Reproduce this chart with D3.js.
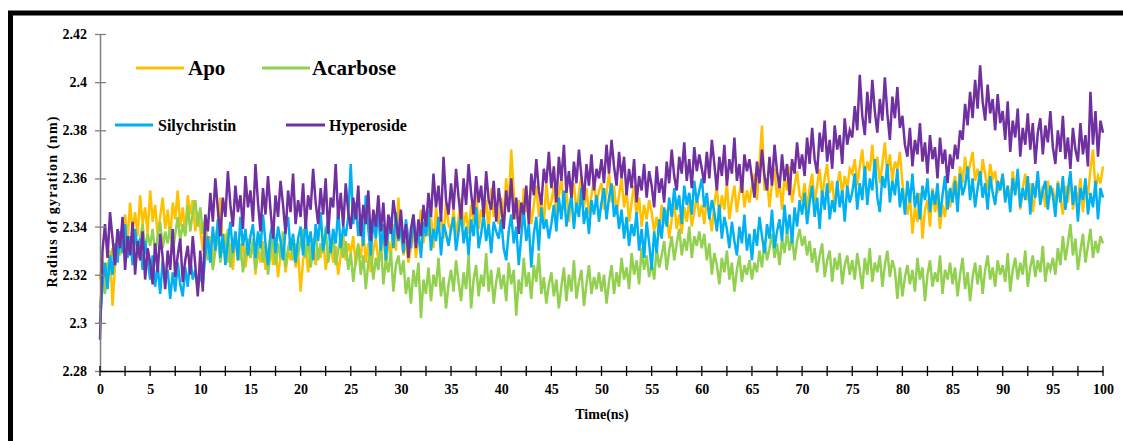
<!DOCTYPE html>
<html>
<head>
<meta charset="utf-8">
<script src="https://cdn.jsdelivr.net/npm/d3@7"></script>
<style>
  body { margin: 0; background: #fff; }
  svg { display: block; }
  text { font-family: "Liberation Serif", "Times New Roman", serif; font-weight: bold; }
</style>
</head>
<body>
<div id="chart"></div>
<script>
// time axis: 0..100 ns sampled every 0.25 ns (one row below = 5 ns)
const STEP = 0.25;
const xTicks = d3.range(0, 100.01, 2.5);
const xLabels = d3.range(0, 100.01, 5);
const yTicks = [2.28, 2.3, 2.32, 2.34, 2.36, 2.38, 2.4, 2.42];

const seriesNames = ["Apo", "Acarbose", "Silychristin", "Hyperoside"];
const seriesColors = ["#FFC000", "#92D050", "#00B0F0", "#7030A0"];

const apo = [
  2.318, 2.326, 2.315, 2.322, 2.330, 2.307, 2.324, 2.333, 2.328, 2.339, 2.345, 2.334, 2.350, 2.338, 2.346, 2.336, 2.353, 2.341, 2.348, 2.337,
  2.355, 2.342, 2.349, 2.336, 2.344, 2.352, 2.339, 2.347, 2.335, 2.350, 2.343, 2.355, 2.340, 2.348, 2.337, 2.353, 2.345, 2.351, 2.338, 2.346,
  2.339, 2.330, 2.343, 2.327, 2.336, 2.324, 2.334, 2.341, 2.352, 2.329, 2.337, 2.325, 2.333, 2.322, 2.338, 2.330, 2.326, 2.335, 2.323, 2.331,
  2.327, 2.335, 2.320, 2.331, 2.325, 2.334, 2.322, 2.329, 2.336, 2.324, 2.332, 2.319, 2.328, 2.333, 2.321, 2.330, 2.326, 2.334, 2.323, 2.329,
  2.313, 2.326, 2.332, 2.321, 2.330, 2.335, 2.324, 2.331, 2.327, 2.336, 2.322, 2.329, 2.334, 2.325, 2.332, 2.320, 2.328, 2.337, 2.326, 2.333,
  2.329, 2.336, 2.324, 2.332, 2.327, 2.339, 2.325, 2.333, 2.321, 2.330, 2.335, 2.326, 2.331, 2.338, 2.323, 2.334, 2.328, 2.341, 2.330, 2.352,
  2.337, 2.328, 2.334, 2.325, 2.331, 2.339, 2.327, 2.336, 2.347, 2.333, 2.341, 2.336, 2.345, 2.331, 2.348, 2.339, 2.344, 2.335, 2.350, 2.341,
  2.338, 2.347, 2.336, 2.344, 2.352, 2.340, 2.346, 2.337, 2.349, 2.342, 2.355, 2.339, 2.347, 2.343, 2.351, 2.338, 2.356, 2.344, 2.349, 2.341,
  2.352, 2.345, 2.360, 2.348, 2.372, 2.354, 2.343, 2.351, 2.339, 2.356, 2.346, 2.353, 2.341, 2.349, 2.357, 2.344, 2.352, 2.340, 2.358, 2.347,
  2.350, 2.357, 2.344, 2.353, 2.360, 2.347, 2.355, 2.342, 2.351, 2.358, 2.346, 2.354, 2.361, 2.348, 2.356, 2.345, 2.353, 2.359, 2.349, 2.355,
  2.358, 2.347, 2.354, 2.362, 2.350, 2.357, 2.345, 2.353, 2.360, 2.348, 2.355, 2.342, 2.350, 2.357, 2.344, 2.352, 2.340, 2.349, 2.343, 2.351,
  2.346, 2.338, 2.344, 2.336, 2.349, 2.341, 2.347, 2.335, 2.343, 2.350, 2.339, 2.345, 2.337, 2.348, 2.342, 2.351, 2.340, 2.346, 2.353, 2.344,
  2.349, 2.341, 2.352, 2.345, 2.338, 2.350, 2.356, 2.344, 2.353, 2.347, 2.358, 2.343, 2.351, 2.357, 2.346, 2.354, 2.360, 2.348, 2.355, 2.350,
  2.357, 2.362, 2.351, 2.366, 2.382, 2.355, 2.360, 2.348, 2.358, 2.364, 2.352, 2.359, 2.347, 2.361, 2.355, 2.365, 2.350, 2.357, 2.363, 2.353,
  2.351, 2.358, 2.347, 2.356, 2.362, 2.350, 2.357, 2.364, 2.352, 2.360, 2.366, 2.354, 2.359, 2.348, 2.357, 2.363, 2.353, 2.361, 2.356, 2.364,
  2.362, 2.368, 2.357, 2.365, 2.372, 2.360, 2.367, 2.363, 2.374, 2.361, 2.369, 2.358, 2.366, 2.375, 2.362, 2.370, 2.359, 2.367, 2.364, 2.371,
  2.358, 2.350, 2.345, 2.353, 2.337, 2.348, 2.342, 2.354, 2.335, 2.347, 2.351, 2.340, 2.356, 2.346, 2.352, 2.339, 2.349, 2.344, 2.355, 2.348,
  2.356, 2.361, 2.352, 2.365, 2.358, 2.369, 2.360, 2.366, 2.371, 2.359, 2.364, 2.357, 2.368, 2.362, 2.355, 2.366, 2.360, 2.363, 2.354, 2.358,
  2.361, 2.352, 2.357, 2.349, 2.363, 2.355, 2.360, 2.347, 2.356, 2.362, 2.351, 2.358, 2.346, 2.354, 2.361, 2.350, 2.357, 2.348, 2.359, 2.353,
  2.356, 2.348, 2.359, 2.352, 2.345, 2.357, 2.350, 2.362, 2.347, 2.355, 2.351, 2.360, 2.346, 2.358, 2.353, 2.364, 2.372, 2.355, 2.361, 2.358,
  2.365
];

const acarbose = [
  2.306, 2.318, 2.312, 2.325, 2.320, 2.331, 2.326, 2.337, 2.329, 2.334, 2.340, 2.328, 2.336, 2.331, 2.338, 2.327, 2.335, 2.341, 2.330, 2.337,
  2.332, 2.339, 2.328, 2.336, 2.342, 2.331, 2.338, 2.333, 2.340, 2.329, 2.337, 2.344, 2.334, 2.341, 2.336, 2.349, 2.338, 2.346, 2.351, 2.340,
  2.348, 2.337, 2.344, 2.326, 2.333, 2.322, 2.330, 2.337, 2.325, 2.334, 2.328, 2.339, 2.323, 2.331, 2.336, 2.326, 2.333, 2.321, 2.329, 2.335,
  2.327, 2.334, 2.322, 2.330, 2.337, 2.325, 2.332, 2.320, 2.329, 2.336, 2.324, 2.333, 2.327, 2.338, 2.323, 2.331, 2.335, 2.326, 2.333, 2.328,
  2.334, 2.339, 2.327, 2.335, 2.323, 2.331, 2.338, 2.326, 2.333, 2.329, 2.340, 2.325, 2.332, 2.337, 2.324, 2.330, 2.336, 2.327, 2.334, 2.322,
  2.329, 2.317, 2.326, 2.333, 2.320, 2.328, 2.314, 2.325, 2.331, 2.318, 2.327, 2.322, 2.334, 2.316, 2.326, 2.321, 2.330, 2.313, 2.324, 2.328,
  2.320, 2.326, 2.312, 2.319, 2.308, 2.322, 2.315, 2.325, 2.302, 2.318, 2.312, 2.323, 2.309, 2.320, 2.315, 2.327, 2.311, 2.319, 2.306, 2.316,
  2.322, 2.313, 2.326, 2.317, 2.309, 2.321, 2.314, 2.328, 2.306, 2.318, 2.324, 2.311, 2.320, 2.315, 2.329, 2.313, 2.322, 2.308, 2.317, 2.323,
  2.314, 2.320, 2.309, 2.325, 2.316, 2.322, 2.303, 2.318, 2.312, 2.327, 2.315, 2.321, 2.310, 2.324, 2.317, 2.329, 2.312, 2.319, 2.308, 2.316,
  2.321, 2.311, 2.318, 2.306, 2.315, 2.323, 2.309, 2.320, 2.313, 2.326, 2.310, 2.317, 2.322, 2.307, 2.316, 2.324, 2.312, 2.319, 2.314, 2.321,
  2.313, 2.320, 2.308, 2.317, 2.324, 2.312, 2.321, 2.315, 2.327, 2.318, 2.323, 2.314, 2.329, 2.320, 2.326, 2.316, 2.331, 2.322, 2.328, 2.319,
  2.325, 2.318, 2.331, 2.323, 2.328, 2.334, 2.322, 2.330, 2.336, 2.326, 2.333, 2.339, 2.328, 2.335, 2.330, 2.340, 2.327, 2.336, 2.332, 2.338,
  2.331, 2.337, 2.326, 2.333, 2.320, 2.329, 2.324, 2.316, 2.327, 2.321, 2.330, 2.318, 2.325, 2.313, 2.322, 2.328, 2.317, 2.324, 2.320, 2.326,
  2.318, 2.325, 2.321, 2.330, 2.323, 2.334, 2.326, 2.331, 2.337, 2.327, 2.333, 2.324, 2.335, 2.329, 2.338, 2.330, 2.336, 2.326, 2.334, 2.339,
  2.332, 2.336, 2.328, 2.334, 2.325, 2.331, 2.321, 2.328, 2.333, 2.319, 2.326, 2.330, 2.317, 2.327, 2.322, 2.329, 2.316, 2.324, 2.328, 2.320,
  2.326, 2.318, 2.329, 2.322, 2.314, 2.327, 2.320, 2.331, 2.317, 2.325, 2.321, 2.328, 2.315, 2.324, 2.330, 2.319, 2.326, 2.322, 2.310, 2.323,
  2.311, 2.319, 2.324, 2.316, 2.322, 2.313, 2.327, 2.318, 2.323, 2.309, 2.320, 2.326, 2.315, 2.321, 2.317, 2.328, 2.312, 2.322, 2.318, 2.325,
  2.316, 2.323, 2.311, 2.320, 2.327, 2.314, 2.321, 2.309, 2.319, 2.325, 2.316, 2.324, 2.312, 2.322, 2.328, 2.318, 2.323, 2.315, 2.326, 2.320,
  2.324, 2.317, 2.329, 2.313, 2.322, 2.327, 2.318, 2.325, 2.320, 2.330, 2.315, 2.323, 2.328, 2.319, 2.326, 2.321, 2.332, 2.317, 2.325, 2.322,
  2.327, 2.320, 2.331, 2.324, 2.336, 2.326, 2.333, 2.341, 2.328, 2.335, 2.322, 2.330, 2.337, 2.325, 2.332, 2.339, 2.327, 2.334, 2.329, 2.336,
  2.333
];

const silychristin = [
  2.300, 2.316, 2.325, 2.314, 2.328, 2.320, 2.333, 2.325, 2.338, 2.329, 2.341, 2.327, 2.336, 2.324, 2.339, 2.330, 2.335, 2.322, 2.334, 2.326,
  2.318, 2.328, 2.315, 2.324, 2.312, 2.326, 2.317, 2.322, 2.310, 2.321, 2.313, 2.325, 2.316, 2.311, 2.323, 2.315, 2.327, 2.318, 2.322, 2.314,
  2.320, 2.316, 2.328, 2.336, 2.325, 2.340, 2.330, 2.343, 2.327, 2.337, 2.324, 2.334, 2.342, 2.329, 2.338, 2.326, 2.344, 2.332, 2.339, 2.328,
  2.336, 2.341, 2.327, 2.338, 2.331, 2.345, 2.333, 2.324, 2.337, 2.342, 2.329, 2.340, 2.334, 2.326, 2.339, 2.344, 2.330, 2.337, 2.325, 2.335,
  2.340, 2.328, 2.343, 2.332, 2.338, 2.326, 2.341, 2.334, 2.346, 2.330, 2.337, 2.343, 2.329, 2.339, 2.333, 2.347, 2.331, 2.340, 2.336, 2.344,
  2.366, 2.341, 2.350, 2.336, 2.345, 2.332, 2.353, 2.339, 2.328, 2.343, 2.335, 2.347, 2.330, 2.341, 2.326, 2.338, 2.344, 2.331, 2.346, 2.334,
  2.340, 2.329, 2.343, 2.335, 2.331, 2.345, 2.333, 2.338, 2.327, 2.342, 2.336, 2.347, 2.330, 2.339, 2.334, 2.344, 2.328, 2.341, 2.337, 2.332,
  2.339, 2.344, 2.330, 2.338, 2.346, 2.333, 2.340, 2.328, 2.343, 2.336, 2.348, 2.331, 2.337, 2.345, 2.334, 2.341, 2.329, 2.342, 2.338, 2.335,
  2.343, 2.331, 2.326, 2.338, 2.345, 2.333, 2.340, 2.324, 2.336, 2.347, 2.334, 2.341, 2.323, 2.337, 2.344, 2.330, 2.348, 2.339, 2.343, 2.335,
  2.341, 2.349, 2.338, 2.352, 2.343, 2.355, 2.340, 2.347, 2.353, 2.339, 2.350, 2.344, 2.356, 2.341, 2.348, 2.337, 2.351, 2.345, 2.353, 2.342,
  2.350, 2.356, 2.343, 2.352, 2.358, 2.344, 2.349, 2.339, 2.347, 2.335, 2.344, 2.332, 2.341, 2.336, 2.346, 2.330, 2.339, 2.327, 2.342, 2.333,
  2.322, 2.338, 2.329, 2.343, 2.335, 2.348, 2.340, 2.352, 2.344, 2.356, 2.347, 2.353, 2.341, 2.357, 2.349, 2.354, 2.345, 2.359, 2.350, 2.355,
  2.360, 2.348, 2.354, 2.343, 2.351, 2.346, 2.338, 2.349, 2.335, 2.344, 2.339, 2.331, 2.342, 2.334, 2.328, 2.340, 2.333, 2.345, 2.330, 2.337,
  2.326, 2.339, 2.332, 2.344, 2.336, 2.329, 2.341, 2.335, 2.347, 2.331, 2.338, 2.343, 2.334, 2.349, 2.337, 2.345, 2.333, 2.348, 2.340, 2.351,
  2.345, 2.354, 2.341, 2.350, 2.357, 2.344, 2.352, 2.339, 2.355, 2.347, 2.358, 2.343, 2.351, 2.346, 2.359, 2.348, 2.355, 2.342, 2.357, 2.350,
  2.354, 2.362, 2.347, 2.358, 2.351, 2.365, 2.349, 2.360, 2.355, 2.368, 2.352, 2.346, 2.361, 2.356, 2.366, 2.350, 2.359, 2.353, 2.364, 2.348,
  2.356, 2.345, 2.359, 2.350, 2.362, 2.348, 2.354, 2.343, 2.357, 2.351, 2.360, 2.346, 2.355, 2.349, 2.358, 2.344, 2.353, 2.361, 2.347, 2.356,
  2.350, 2.359, 2.346, 2.362, 2.353, 2.357, 2.365, 2.351, 2.360, 2.348, 2.356, 2.363, 2.352, 2.358, 2.347, 2.361, 2.354, 2.349, 2.359, 2.355,
  2.362, 2.350, 2.357, 2.346, 2.360, 2.353, 2.364, 2.348, 2.356, 2.351, 2.361, 2.345, 2.358, 2.352, 2.363, 2.349, 2.355, 2.359, 2.347, 2.357,
  2.353, 2.344, 2.358, 2.350, 2.361, 2.347, 2.355, 2.363, 2.349, 2.357, 2.342, 2.356, 2.351, 2.360, 2.345, 2.354, 2.348, 2.359, 2.343, 2.356,
  2.352
];

const hyperoside = [
  2.293, 2.330, 2.341, 2.327, 2.346, 2.335, 2.324, 2.339, 2.331, 2.344, 2.322, 2.336, 2.328, 2.342, 2.320, 2.334, 2.326, 2.338, 2.318, 2.331,
  2.325, 2.316, 2.333, 2.321, 2.337, 2.327, 2.314, 2.330, 2.322, 2.339, 2.319, 2.328, 2.335, 2.317, 2.326, 2.332, 2.320, 2.336, 2.324, 2.311,
  2.330, 2.313, 2.345, 2.338, 2.354, 2.342, 2.360, 2.347, 2.336, 2.352, 2.344, 2.363, 2.349, 2.340, 2.357, 2.346, 2.353, 2.339, 2.361, 2.348,
  2.355, 2.342, 2.366, 2.350, 2.338, 2.356, 2.345, 2.361, 2.347, 2.335, 2.353, 2.344, 2.359, 2.349, 2.337, 2.355, 2.346, 2.362, 2.341, 2.351,
  2.344, 2.358, 2.339, 2.353, 2.347, 2.364, 2.350, 2.341, 2.356, 2.345, 2.360, 2.337, 2.352, 2.348, 2.366, 2.343, 2.354, 2.340, 2.358, 2.346,
  2.339, 2.352, 2.343, 2.357, 2.336, 2.349, 2.341, 2.355, 2.334, 2.347, 2.340, 2.353, 2.338, 2.350, 2.332, 2.345, 2.337, 2.351, 2.343, 2.335,
  2.347, 2.333, 2.341, 2.327, 2.339, 2.345, 2.331, 2.343, 2.336, 2.349, 2.340, 2.354, 2.344, 2.362, 2.348, 2.357, 2.342, 2.369, 2.351, 2.345,
  2.358, 2.347, 2.364, 2.352, 2.343, 2.360, 2.349, 2.366, 2.354, 2.345, 2.361, 2.350, 2.357, 2.344, 2.363, 2.351, 2.347, 2.359, 2.342, 2.356,
  2.348, 2.339, 2.355, 2.346, 2.360, 2.343, 2.352, 2.337, 2.350, 2.345, 2.357, 2.341, 2.362, 2.353, 2.368, 2.355, 2.349, 2.364, 2.358, 2.371,
  2.356, 2.365, 2.350, 2.369, 2.359, 2.374, 2.354, 2.363, 2.352, 2.367, 2.358, 2.372, 2.361, 2.351, 2.366, 2.357, 2.370, 2.355, 2.364, 2.360,
  2.368, 2.358, 2.374, 2.362, 2.376, 2.365, 2.357, 2.371, 2.360, 2.369, 2.353, 2.364, 2.356, 2.368, 2.350, 2.361, 2.355, 2.366, 2.352, 2.363,
  2.357, 2.348, 2.365, 2.354, 2.360, 2.350, 2.367, 2.358, 2.372, 2.361, 2.355, 2.369, 2.362, 2.375, 2.359, 2.368, 2.356, 2.373, 2.363, 2.370,
  2.364, 2.358, 2.371, 2.360, 2.376, 2.366, 2.355, 2.369, 2.361, 2.374, 2.357, 2.368, 2.362, 2.377, 2.359, 2.366, 2.354, 2.370, 2.363, 2.368,
  2.360, 2.352, 2.367, 2.358, 2.372, 2.361, 2.355, 2.369, 2.357, 2.374, 2.363, 2.356, 2.370, 2.359, 2.366, 2.353, 2.368, 2.362, 2.375, 2.364,
  2.370, 2.361, 2.377, 2.366, 2.381, 2.368, 2.362, 2.379, 2.371, 2.384, 2.367, 2.376, 2.364, 2.382, 2.372, 2.378, 2.366, 2.385, 2.374, 2.380,
  2.377, 2.390, 2.380, 2.403, 2.386, 2.378, 2.396, 2.383, 2.401, 2.388, 2.379, 2.393, 2.384, 2.402, 2.387, 2.376, 2.394, 2.385, 2.398, 2.381,
  2.386, 2.374, 2.369, 2.381, 2.365, 2.376, 2.370, 2.383, 2.367, 2.375, 2.362, 2.378, 2.368, 2.373, 2.360, 2.377, 2.366, 2.372, 2.358, 2.370,
  2.364, 2.374, 2.368, 2.380, 2.376, 2.391, 2.382, 2.396, 2.385, 2.401, 2.389, 2.407, 2.392, 2.384, 2.399, 2.387, 2.393, 2.380, 2.395, 2.383,
  2.388, 2.376, 2.392, 2.371, 2.384, 2.377, 2.389, 2.369, 2.381, 2.374, 2.387, 2.372, 2.383, 2.366, 2.379, 2.385, 2.370, 2.382, 2.375, 2.388,
  2.373, 2.366, 2.380, 2.371, 2.386, 2.368, 2.377, 2.364, 2.381, 2.372, 2.367, 2.383, 2.370, 2.378, 2.365, 2.396, 2.374, 2.388, 2.369, 2.384,
  2.379
];

const seriesValues = [apo, acarbose, silychristin, hyperoside];

const W = 1123, H = 441;
const svg = d3.select("#chart").append("svg")
  .attr("width", W)
  .attr("height", H);

// outer black frame (cut off at right and bottom like the source image)
svg.append("rect")
  .attr("x", 10.5).attr("y", 13)
  .attr("width", 1200).attr("height", 600)
  .attr("fill", "none")
  .attr("stroke", "#000")
  .attr("stroke-width", 5);

let x = d3.scaleLinear().domain([0, 100]).range([100, 1103]);
let y = d3.scaleLinear().domain([2.28, 2.42]).range([371, 34]);

// lines
let line = d3.line()
  .x((d, i) => x(i * STEP))
  .y(d => y(d));

svg.selectAll(".rg")
  .data(seriesValues)
  .enter()
  .append("path")
  .attr("class", "rg")
  .attr("fill", "none")
  .attr("stroke", (d, i) => seriesColors[i])
  .attr("stroke-width", 2.5)
  .attr("d", line);

// y axis (gray, ticks crossing)
let yaxis = svg.append("g")
  .attr("transform", "translate(100,0)")
  .call(d3.axisLeft(y).tickValues(yTicks).tickSize(0).tickFormat(d => d3.format("")(+d.toFixed(2))));
yaxis.select(".domain").attr("stroke", "#7f7f7f").attr("stroke-width", 1.5);
yaxis.selectAll(".tick").append("line")
  .attr("x1", -5).attr("x2", 6)
  .attr("stroke", "#7f7f7f").attr("stroke-width", 1.3);
yaxis.selectAll(".tick text")
  .attr("x", -13)
  .attr("fill", "#000")
  .style("font-size", "14px")
  .style("font-family", "'Liberation Serif', serif")
  .style("font-weight", "bold");

// x axis (black, ticks crossing every 2.5, labels every 5)
let axis = svg.append("g")
  .attr("transform", "translate(0,371)")
  .call(d3.axisBottom(x).tickValues(xLabels).tickSize(0).tickFormat(d3.format("d")));
axis.select(".domain").attr("stroke", "#000").attr("stroke-width", 1.5);
axis.selectAll(".tick text")
  .attr("y", 13)
  .attr("fill", "#000")
  .style("font-size", "14px")
  .style("font-family", "'Liberation Serif', serif")
  .style("font-weight", "bold");
axis.selectAll(".minor")
  .data(xTicks)
  .enter()
  .append("line")
  .attr("class", "minor")
  .attr("x1", d => x(d)).attr("x2", d => x(d))
  .attr("y1", -5).attr("y2", 5)
  .attr("stroke", "#000").attr("stroke-width", 1.3);

// axis titles
svg.append("text")
  .attr("x", 602).attr("y", 419)
  .attr("text-anchor", "middle")
  .style("font-size", "14px")
  .text("Time(ns)");

svg.append("text")
  .attr("transform", "translate(52,202) rotate(-90)")
  .attr("text-anchor", "middle")
  .attr("dy", "0.35em")
  .attr("textLength", 171)
  .style("font-size", "14px")
  .text("Radius of gyration  (nm)");

// legend
const legendPos = [
  { x1: 136, x2: 184, y: 68, tx: 188, size: 21 },
  { x1: 262, x2: 310, y: 68, tx: 312, size: 21 },
  { x1: 115, x2: 153, y: 125, tx: 158, size: 16 },
  { x1: 286, x2: 325, y: 125, tx: 329, size: 16 }
];
let legend = svg.selectAll(".legend")
  .data(seriesNames)
  .enter()
  .append("g")
  .attr("class", "legend");
legend.append("line")
  .attr("x1", (d, i) => legendPos[i].x1)
  .attr("x2", (d, i) => legendPos[i].x2)
  .attr("y1", (d, i) => legendPos[i].y)
  .attr("y2", (d, i) => legendPos[i].y)
  .attr("stroke", (d, i) => seriesColors[i])
  .attr("stroke-width", 3);
legend.append("text")
  .attr("x", (d, i) => legendPos[i].tx)
  .attr("y", (d, i) => legendPos[i].y)
  .attr("dy", "0.35em")
  .style("font-size", (d, i) => legendPos[i].size + "px")
  .text(d => d);
</script>
</body>
</html>
